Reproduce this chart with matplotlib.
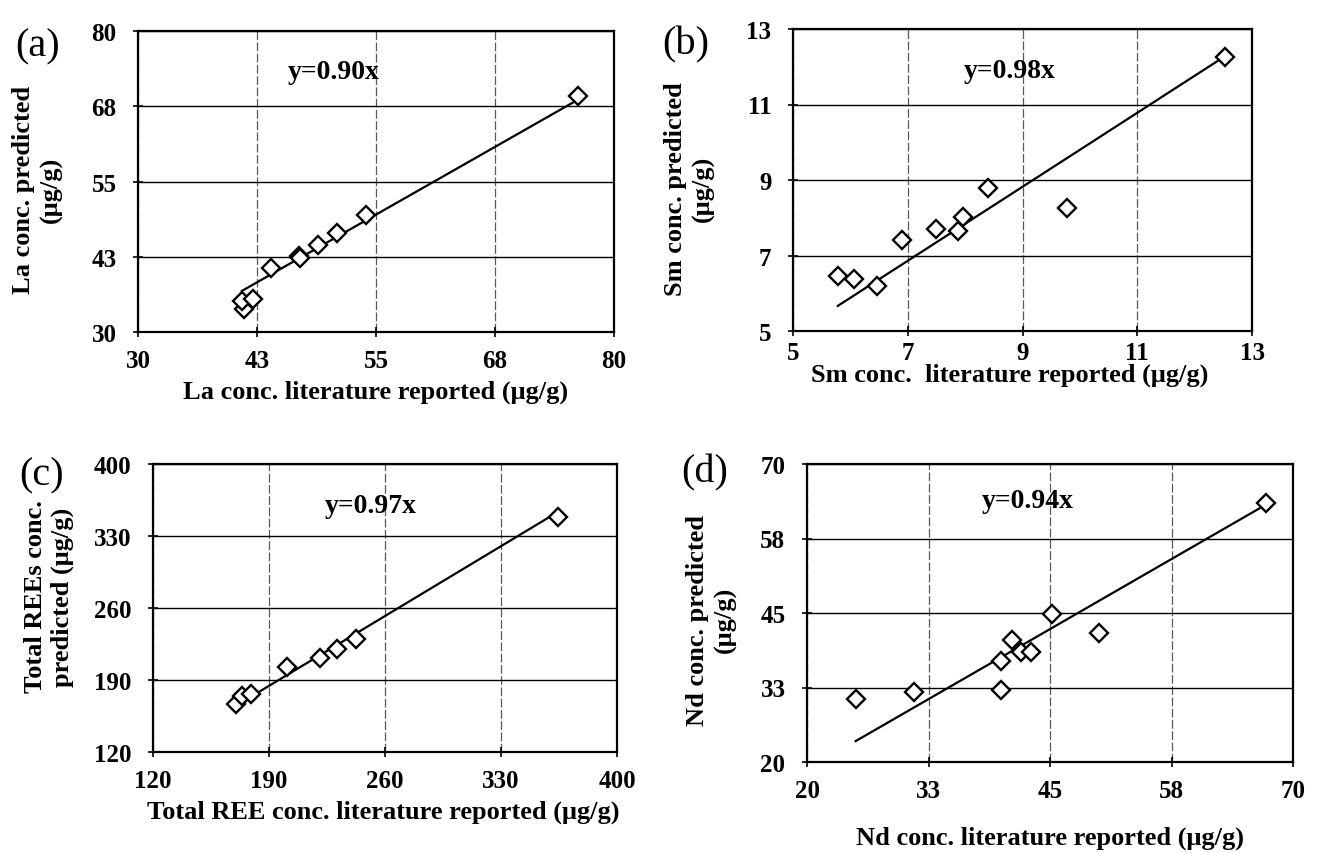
import numpy as np
import matplotlib
matplotlib.use("Agg")
import matplotlib.pyplot as plt
from matplotlib.ticker import FixedLocator, FuncFormatter

plt.rcParams['font.family'] = ['Liberation Serif', 'DejaVu Serif']

# panel (a) La
la_lit = [41.1, 40.9, 42.1, 44.0, 46.9, 47.0, 48.9, 50.9, 53.9, 76.2]
la_pred = [33.8, 35.2, 35.5, 40.6, 42.7, 42.3, 44.5, 46.5, 49.4, 69.2]
la_slope = 0.90
la_ticks = [30, 42.5, 55, 67.5, 80]

# panel (b) Sm
sm_lit = [5.78, 6.07, 6.46, 6.90, 7.49, 7.87, 7.97, 8.40, 9.78, 12.53]
sm_pred = [6.46, 6.39, 6.19, 7.41, 7.70, 7.64, 8.01, 8.80, 8.25, 12.25]
sm_slope = 0.98
sm_ticks = [5, 7, 9, 11, 13]

# panel (c) total REE
ree_lit = [170.2, 173.6, 179.1, 200.8, 220.8, 230.9, 242.4, 364.5]
ree_pred = [166.2, 174.0, 176.0, 203.1, 211.6, 220.3, 229.4, 348.9]
ree_slope = 0.97
ree_ticks = [120, 190, 260, 330, 400]

# panel (d) Nd
nd_lit = [25.0, 31.0, 40.0, 40.0, 41.1, 42.0, 43.0, 45.2, 50.0, 67.2]
nd_pred = [30.6, 31.8, 37.0, 32.0, 40.5, 38.5, 38.5, 44.8, 41.6, 63.4]
nd_slope = 0.94
nd_ticks = [20, 32.5, 45, 57.5, 70]

W, H = 1318, 854
fig = plt.figure(figsize=(W / 100, H / 100), dpi=100)


def px_box(l, t, r, b):
    return [l / W, 1 - b / H, (r - l) / W, (b - t) / H]


def half_up(v, pos=None):
    # excel style rounding of the tick values
    return str(int(np.floor(v + 0.5)))


def panel(box, xs, ys, slope, ticks, eq_pos, xpad=9):
    ax = fig.add_axes(px_box(*box))
    ax.set_xlim(ticks[0], ticks[-1])
    ax.set_ylim(ticks[0], ticks[-1])
    ax.xaxis.set_major_locator(FixedLocator(ticks))
    ax.yaxis.set_major_locator(FixedLocator(ticks))
    ax.xaxis.set_major_formatter(FuncFormatter(half_up))
    ax.yaxis.set_major_formatter(FuncFormatter(half_up))
    ax.tick_params(direction='inout', length=7, width=1.2, labelsize=18)
    ax.tick_params(axis='x', pad=xpad)
    ax.tick_params(axis='y', pad=12)
    for lab in ax.get_xticklabels() + ax.get_yticklabels():
        lab.set_fontweight('bold')
    for s in ax.spines.values():
        s.set_linewidth(1.6)
    ax.grid(axis='y', color='black', linewidth=1.0)
    ax.grid(axis='x', color='0.35', linewidth=0.9, linestyle=(0, (7, 2)))
    ax.set_axisbelow(True)
    xl = np.array([min(xs), max(xs)])
    ax.plot(xl, slope * xl, color='black', linewidth=1.6)
    ax.plot(xs, ys, linestyle='none', marker='D', markersize=9,
            markerfacecolor='white', markeredgecolor='black', markeredgewidth=1.7)
    ax.text(eq_pos[0], eq_pos[1], "y=%.2fx" % slope, transform=ax.transAxes,
            ha='center', va='center', fontsize=20, fontweight='bold')
    return ax


panel((138, 32, 614, 333), la_lit, la_pred, la_slope, la_ticks, (0.41, 0.864))
panel((793, 30, 1252, 332), sm_lit, sm_pred, sm_slope, sm_ticks, (0.473, 0.862), xpad=4)
panel((153, 465, 617, 753), ree_lit, ree_pred, ree_slope, ree_ticks, (0.47, 0.855))
panel((807, 465, 1293, 763), nd_lit, nd_pred, nd_slope, nd_ticks, (0.455, 0.877))


def ftext(x, y, s, **kw):
    fig.text(x / W, 1 - y / H, s, ha='center', va='center', **kw)


# panel letters
ftext(38, 47, "(a)", fontsize=29)
ftext(686, 45, "(b)", fontsize=29)
ftext(42, 476, "(c)", fontsize=29)
ftext(705, 473, "(d)", fontsize=29)

# axis labels
lab = dict(fontsize=19, fontweight='bold')
ftext(376, 392, "La conc. literature reported (\u03bcg/g)", **lab)
ftext(1010, 375, "Sm conc.  literature reported (\u03bcg/g)", **lab)
ftext(383, 812, "Total REE conc. literature reported (\u03bcg/g)", **lab)
ftext(1050, 838, "Nd conc. literature reported (\u03bcg/g)", **lab)

ylab = dict(rotation=90, multialignment='center', linespacing=1.25, **lab)
ftext(37, 190, "La conc. predicted\n(\u03bcg/g)", **ylab)
ftext(689, 189, "Sm conc. predicted\n(\u03bcg/g)", **ylab)
ftext(49, 597, "Total REEs conc.\npredicted (\u03bcg/g)", **ylab)
ftext(711, 620, "Nd conc. predicted\n(\u03bcg/g)", **ylab)

fig.savefig("out.png", dpi=100)
